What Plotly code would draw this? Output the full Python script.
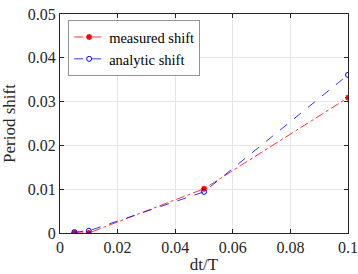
import plotly.graph_objects as go

dt_T = [0.005, 0.01, 0.05, 0.1]
measured_shift = [0.00005, 0.0, 0.0101, 0.0309]
analytic_shift = [0.0002, 0.0005, 0.0094, 0.0361]

x_ticks = [0, 0.02, 0.04, 0.06, 0.08, 0.1]
x_tick_labels = ["0", "0.02", "0.04", "0.06", "0.08", "0.1"]
y_ticks = [0, 0.01, 0.02, 0.03, 0.04, 0.05]
y_tick_labels = ["0", "0.01", "0.02", "0.03", "0.04", "0.05"]

font_family = "Liberation Serif, Times New Roman, serif"

fig = go.Figure()
fig.add_trace(go.Scatter(
    x=dt_T, y=measured_shift, mode="lines+markers", name="measured shift",
    line=dict(color="#ff0000", width=0.8, dash="dashdot"),
    marker=dict(symbol="asterisk", size=5, color="#ff0000", line=dict(color="#ff0000", width=1.5)),
))
fig.add_trace(go.Scatter(
    x=dt_T, y=analytic_shift, mode="lines+markers", name="analytic shift",
    line=dict(color="#0000ff", width=0.8, dash="dash"),
    marker=dict(symbol="circle-open", size=5, color="#0000ff", line=dict(color="#0000ff", width=1)),
))

axis_common = dict(
    showline=True, linecolor="#262626", linewidth=1, mirror="ticks",
    ticks="inside", ticklen=4, tickcolor="#262626",
    showgrid=True, gridcolor="#e6e6e6", gridwidth=1,
    zeroline=False, tickfont=dict(family=font_family, size=16, color="#262626"),
    automargin=False, ticklabeloverflow="allow",
)

fig.update_layout(
    width=358, height=274,
    margin=dict(l=60, r=10, t=14, b=41),
    paper_bgcolor="white", plot_bgcolor="white",
    font=dict(family=font_family, color="#262626"),
    xaxis=dict(range=[0, 0.1], tickvals=x_ticks, ticktext=x_tick_labels,
               title=dict(text="dt/T", font=dict(family=font_family, size=17), standoff=2),
               **axis_common),
    yaxis=dict(range=[0, 0.05], tickvals=y_ticks, ticktext=y_tick_labels,
               title=dict(text="Period shift", font=dict(family=font_family, size=17), standoff=10),
               **axis_common),
    legend=dict(x=0.03, y=0.97, xanchor="left", yanchor="top",
                bgcolor="white", bordercolor="#262626", borderwidth=0.5,
                font=dict(family=font_family, size=14.5, color="#000000"),
                tracegroupgap=0),
    showlegend=True,
)

fig.write_html("out.html", config={"displayModeBar": False},
               post_script="document.body.style.margin='0px';")
